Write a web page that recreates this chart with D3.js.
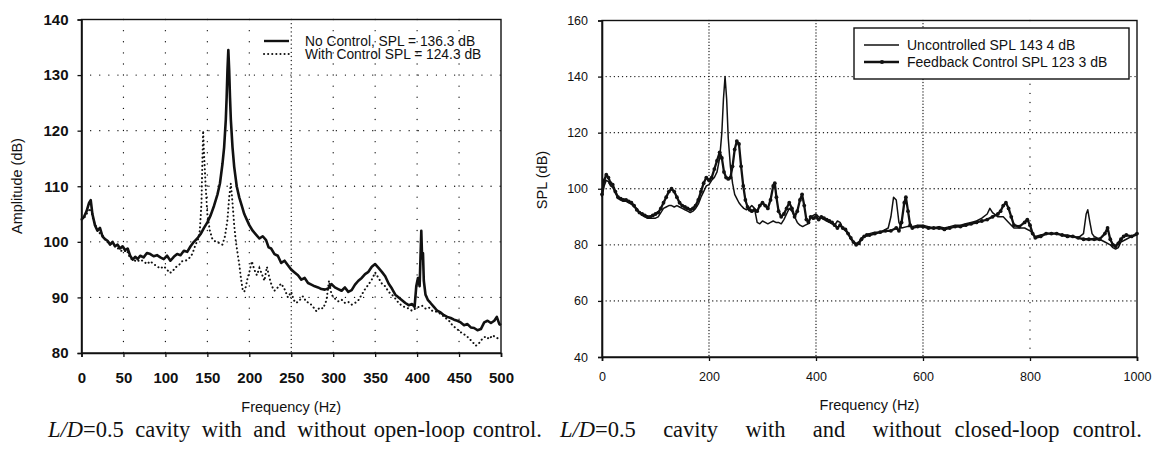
<!DOCTYPE html>
<html>
<head>
<meta charset="utf-8">
<script src="https://cdn.jsdelivr.net/npm/d3@7"></script>
<style>
  html, body { margin: 0; padding: 0; background: #fff; }
  svg { display: block; }
  text { fill: #111; }
</style>
</head>
<body>
<svg id="chart" width="1155" height="449"></svg>
<script>
// ---------------- DATA ----------------
// Left panel: open-loop control
const leftXTicks = [0, 50, 100, 150, 200, 250, 300, 350, 400, 450, 500];
const leftYTicks = [80, 90, 100, 110, 120, 130, 140];
const noCtrlFreq = [0,3,6,9,11,13,16,19,22,25,28,31,34,37,40,43,46,49,52,55,58,61,64,67,70,74,78,82,86,90,94,98,102,106,110,114,118,122,126,130,134,138,142,146,150,154,158,162,165,168,170,172,173,174,175,176,177,178,180,182,185,188,191,194,197,200,204,208,212,216,220,223,226,230,234,238,242,246,250,254,258,262,266,270,274,278,282,286,290,294,298,302,306,310,314,318,322,326,330,334,338,342,346,350,354,358,362,366,370,374,378,382,386,390,394,397,399,401,403,404,405,406,407,408,410,413,416,420,424,428,432,436,440,444,448,452,456,460,464,468,472,476,480,484,488,492,495,498,500];
const noCtrlAmp = [104,104.5,105.5,107,107.5,105,103,102,102.5,101,100.5,100.2,99.5,100,99.2,99.5,98.8,99.2,98.5,98.8,97.5,96.8,97.3,96.9,97.5,97.2,98,97.8,97.4,97.6,97.2,96.9,97.5,96.6,97.3,97.8,97.6,98.4,98.2,99.2,100,100.6,101.4,102.5,103.5,104.8,106.5,108.5,110.5,114,117,122,126,131,134.5,131,126,122,117,113.5,110,108,106.5,105,104,103,102,101.3,100.6,101,100.3,99,98.8,97.8,97.5,96.2,96.6,95.8,95,94.5,94,93.2,93.5,92.6,92.3,92,91.8,91.5,91.4,91.6,92.4,91.8,91.5,91.2,91.8,91,91.3,92.3,93,93.5,94.2,94.6,95.5,96,95.3,94.6,93.8,92.5,91.6,90.5,90,89.5,89,88.6,88.8,88.3,92,93.5,92,97,102,97,98,93,90.5,89.5,89,88.3,87.6,87.3,86.8,86.5,86.3,86,85.8,85.5,85,85.2,84.6,84.5,84.1,84.3,85.5,85.8,85.4,85.8,86.5,85.2,85];
const withCtrlFreq = [0,4,8,11,14,18,22,26,30,34,38,42,46,50,54,58,62,66,70,74,78,82,86,90,94,98,102,105,108,112,116,120,124,128,132,136,139,141,143,144,145,146,148,150,153,156,160,164,168,171,174,176,178,180,182,184,186,188,190,192,194,196,198,200,203,206,209,212,215,218,221,224,227,230,234,238,242,246,250,253,256,260,264,268,272,276,280,284,288,292,295,298,302,306,310,314,318,322,326,330,334,338,342,346,350,354,358,362,366,370,374,378,382,386,390,394,398,402,406,410,414,418,422,426,430,434,438,442,446,450,454,458,462,466,470,474,478,482,486,490,494,498,500];
const withCtrlAmp = [104,104.5,105.5,106,104,102.5,101.5,101,100,99.8,99.5,99,98.5,98.2,98.5,97,96.8,96.4,96.8,96.5,96,96.5,96,95.6,95.2,95.6,95,94.4,94.6,95.4,95.8,96.5,96.6,97,97.8,99.5,100.5,102,107,114,120,116,110,105,102,100.5,100,99.8,99.5,101,104,108,110.5,107,103,100,98,96,93.5,91.5,91,92,93.5,94.5,96.5,95,94,95.3,94.2,93,95.5,93.5,92,91.2,91.8,92.5,91.5,90,91,89.5,89,89.5,90.2,89.2,89,88.3,87.5,88.2,88,89.5,93,90.5,89.8,89.3,89.6,89,89.2,88.7,89,89.5,90.5,91.5,92.3,93.2,94.5,93.5,92.5,92,91,90.5,89.8,89,88.5,88.2,88,87.6,88,88.3,88.5,88,88.2,87.6,87.5,87.2,86.8,86.3,85.8,85,84.5,84,83.5,83.2,82.6,82,81.3,81.8,82.6,83,82.5,83.2,82.8,82.5,82.6];
const leftLegend = ["No Control, SPL = 136.3 dB", "With Control  SPL = 124.3 dB"];

// Right panel: closed-loop control
const rightXTicks = [0, 200, 400, 600, 800, 1000];
const rightYTicks = [40, 60, 80, 100, 120, 140, 160];
const uncFreq = [0,4,8,12,16,20,25,30,35,40,45,50,55,60,65,70,75,80,85,90,95,100,105,110,115,120,125,130,135,140,145,150,155,160,165,170,175,180,185,190,195,200,205,210,215,220,224,227,230,233,236,240,244,248,252,256,260,265,270,275,280,285,290,295,300,305,310,315,320,325,330,335,340,345,350,355,360,365,370,375,380,385,390,395,400,405,410,415,420,425,430,435,440,445,450,455,460,465,470,475,480,485,490,495,500,510,520,530,535,540,545,550,555,560,570,580,590,600,610,620,630,640,650,660,670,680,690,700,710,720,725,730,740,750,760,770,780,790,800,810,820,830,840,850,860,870,880,890,900,905,908,912,916,920,930,940,950,955,960,965,970,980,990,1000];
const uncSPL = [97,101,103,102.5,101,100.5,98.5,96.5,96,95.5,95.5,95,94.5,93.5,93,91.5,90.5,90,89.5,89.5,89.5,89.5,90,91.5,93,93.5,94,94,93.5,94,93.5,93,92.5,92,91.5,92,93,94.5,97,99,101,101.5,103,104,106,111,120,132,140,132,118,108,102,98,96.5,95,94,93,92.5,93,94,93,88,87.5,88.5,88,87.5,88,88.5,88,88,87.5,89,91,93,92,90,88,87,86.5,87,87.5,90,90.5,91,90,89.5,89,88.5,88,87.5,87,88.5,88,86,85,84,82,81,80.5,81,82.5,83,83.5,84,84.5,84.5,85.5,86,90,97,96,88,86,86.5,86.5,87,87,86.5,86,86.5,86,86.5,87,87,87.5,88,88.5,89.5,91,93,91.5,90,90,88,86,86,86,85,83,83.5,84,84,84,83.5,83.5,83,82.5,84,91,92.5,88,84,83,82,81,80,79,78.5,79,81,82,83,83.5];
const fbFreq = [0,4,8,12,16,20,25,30,35,40,45,50,55,60,65,70,75,80,85,90,95,100,105,110,115,120,125,130,135,140,145,150,155,160,165,170,175,180,185,190,195,200,205,210,215,220,224,228,232,236,240,244,248,252,256,260,264,268,272,276,280,285,290,295,300,305,310,315,320,323,326,330,335,340,345,350,355,360,365,370,374,378,382,386,390,395,400,405,410,415,420,425,430,435,440,445,450,455,460,465,470,475,480,485,490,495,500,510,520,530,540,550,555,560,565,568,572,576,580,590,600,610,620,630,640,650,660,670,680,690,700,710,720,730,740,745,750,755,760,765,770,780,790,795,800,805,810,820,830,840,850,860,870,880,890,900,910,920,930,940,945,950,955,960,965,970,975,980,990,1000];
const fbSPL = [98,103,105,104,102,101.5,99,97,96.5,96,96,95.5,95,94,92.5,91.5,91,90.5,90,90,90.5,91,91.5,93,95,97,99,100,99,97,95,94,93.5,93,92.5,93,94,96,99,102,104,103,104,107,110,113,111,106,104,103.5,104,108,114,117,116,108,101,96,93.5,92.5,92,92.5,92,94,95,94,93,96,101,102,97,92,90,91,93,95,93,90,92,96,98,94,89,88,90,89.5,90,89,90,89.5,89,88.5,88,87,86,87,86,85.5,84,82.5,81,80,80.5,82,83,83.5,83.5,84,84.5,85,85,86,85,88,95,97,92,87,86,86.5,86.5,86,86,86,85.5,86,86.5,86.5,87,87.5,88,88.5,89,90,91,92,94,95,93,90,87,86.5,88,89,87,84,82.5,83,84,84,84,83.5,83,83,82.5,82,82,82,82,84,86,82,80,79.5,80.5,82,83,83.5,83,84];
const rightLegend = ["Uncontrolled SPL 143 4 dB", "Feedback Control SPL 123 3 dB"];

// captions: [italic part, widely spaced part, normally spaced part]
const captionLeft = ["L/D", "=0.5 cavity with and ", "without open-loop control."];
const captionRight = ["L/D", "=0.5 cavity with and ", "without closed-loop control."];

// ---------------- DRAW ----------------
const svg = d3.select("#chart");
const ink = "#111";
const sans = "Liberation Sans, Arial, sans-serif";

function panel(cfg) {
  const x = d3.scaleLinear().domain(cfg.xDomain).range([cfg.x0, cfg.x1]);
  const y = d3.scaleLinear().domain(cfg.yDomain).range([cfg.y1, cfg.y0]);
  const g = svg.append("g");

  cfg.yTicks.slice(1, -1).forEach(t => {
    g.append("line").attr("x1", cfg.x0).attr("x2", cfg.x1)
      .attr("y1", y(t)).attr("y2", y(t))
      .attr("stroke", ink).attr("stroke-width", 1.3)
      .attr("stroke-linecap", "round")
      .attr("stroke-dasharray", cfg.hGridDash);
  });
  cfg.xTicks.slice(1, -1).forEach(t => {
    g.append("line").attr("x1", x(t)).attr("x2", x(t))
      .attr("y1", cfg.y0).attr("y2", cfg.y1)
      .attr("stroke", ink).attr("stroke-width", 1.3)
      .attr("stroke-linecap", "round")
      .attr("stroke-dasharray", cfg.denseX.includes(t) ? cfg.denseDash : cfg.vGridDash);
  });

  g.append("rect").attr("x", cfg.x0).attr("y", cfg.y0)
    .attr("width", cfg.x1 - cfg.x0).attr("height", cfg.y1 - cfg.y0)
    .attr("fill", "none").attr("stroke", ink).attr("stroke-width", 1.4);

  const xa = g.append("g").attr("transform", `translate(0,${cfg.y1})`)
    .call(d3.axisBottom(x).tickValues(cfg.xTicks).tickSize(4).tickPadding(cfg.xPad).tickFormat(d3.format("d")));
  const ya = g.append("g").attr("transform", `translate(${cfg.x0},0)`)
    .call(d3.axisLeft(y).tickValues(cfg.yTicks).tickSize(4).tickPadding(cfg.yPad).tickFormat(d3.format("d")));
  [xa, ya].forEach(a => {
    a.select(".domain").attr("stroke", ink).attr("stroke-width", 1.6);
    a.selectAll(".tick line").attr("stroke", ink).attr("stroke-width", 1.3);
    a.selectAll("text").attr("font-family", sans)
      .attr("font-size", cfg.tickFont).attr("font-weight", cfg.tickWeight).attr("fill", ink);
  });

  g.append("text").attr("x", (cfg.x0 + cfg.x1) / 2).attr("y", cfg.xTitleY)
    .attr("text-anchor", "middle").attr("font-family", sans)
    .attr("font-size", cfg.titleFont).text("Frequency (Hz)");
  g.append("text").attr("transform", `translate(${cfg.yTitleX},${cfg.yTitleCY}) rotate(-90)`)
    .attr("text-anchor", "middle").attr("font-family", sans)
    .attr("font-size", cfg.titleFont).text(cfg.yTitle);

  return { g, x, y };
}

// LEFT PANEL
const L = panel({
  xDomain: [0, 500], yDomain: [80, 140],
  x0: 81.5, x1: 501, y0: 19.5, y1: 353,
  xTicks: leftXTicks, yTicks: leftYTicks,
  hGridDash: "0.1,9", vGridDash: "0.1,11", denseDash: "0.1,4", denseX: [250],
  tickFont: 15, tickWeight: "bold", xPad: 15, yPad: 9,
  titleFont: 14.5, xTitleY: 412, yTitleX: 22, yTitleCY: 186, yTitle: "Amplitude (dB)"
});

const lineL = d3.line().x(d => L.x(d[0])).y(d => L.y(d[1]));
const ncData = noCtrlFreq.map((f, i) => [f, noCtrlAmp[i]]);
const wcData = withCtrlFreq.map((f, i) => [f, withCtrlAmp[i]]);
L.g.append("path").datum(wcData).attr("d", lineL)
  .attr("fill", "none").attr("stroke", ink).attr("stroke-width", 2)
  .attr("stroke-linecap", "round").attr("stroke-dasharray", "0.1,4");
L.g.append("path").datum(ncData).attr("d", lineL)
  .attr("fill", "none").attr("stroke", ink).attr("stroke-width", 2.6)
  .attr("stroke-linejoin", "round");

const llX = 264, llY = 41;
L.g.append("line").attr("x1", llX).attr("x2", llX + 25).attr("y1", llY).attr("y2", llY)
  .attr("stroke", ink).attr("stroke-width", 2.4);
L.g.append("line").attr("x1", llX).attr("x2", llX + 25).attr("y1", llY + 13).attr("y2", llY + 13)
  .attr("stroke", ink).attr("stroke-width", 2).attr("stroke-linecap", "round").attr("stroke-dasharray", "0.1,4");
leftLegend.forEach((t, i) => {
  L.g.append("text").attr("x", 305).attr("y", llY + 5 + i * 13)
    .attr("font-family", sans).attr("font-size", 13.8).text(t);
});

// RIGHT PANEL
const R = panel({
  xDomain: [0, 1000], yDomain: [40, 160],
  x0: 602, x1: 1137, y0: 20.5, y1: 357,
  xTicks: rightXTicks, yTicks: rightYTicks,
  hGridDash: "0.1,4", vGridDash: "0.1,9", denseDash: "0.1,3", denseX: [200, 400, 600],
  tickFont: 12.5, tickWeight: "normal", xPad: 11, yPad: 10,
  titleFont: 14.5, xTitleY: 410, yTitleX: 547, yTitleCY: 180, yTitle: "SPL (dB)"
});

const lineR = d3.line().x(d => R.x(d[0])).y(d => R.y(d[1]));
const uncData = uncFreq.map((f, i) => [f, uncSPL[i]]);
const fbData = fbFreq.map((f, i) => [f, fbSPL[i]]);
R.g.append("path").datum(uncData).attr("d", lineR)
  .attr("fill", "none").attr("stroke", ink).attr("stroke-width", 1.5).attr("stroke-linejoin", "round");
R.g.append("path").datum(fbData).attr("d", lineR)
  .attr("fill", "none").attr("stroke", ink).attr("stroke-width", 2.3).attr("stroke-linejoin", "round");
R.g.selectAll("circle.mk").data(fbData).enter().append("circle").attr("class", "mk")
  .attr("cx", d => R.x(d[0])).attr("cy", d => R.y(d[1])).attr("r", 1.9).attr("fill", ink);

const rbX = 854, rbY = 28, rbW = 275, rbH = 51;
R.g.append("rect").attr("x", rbX).attr("y", rbY).attr("width", rbW).attr("height", rbH)
  .attr("fill", "#fff").attr("stroke", ink).attr("stroke-width", 1.4);
R.g.append("line").attr("x1", rbX + 10).attr("x2", rbX + 45).attr("y1", rbY + 17).attr("y2", rbY + 17)
  .attr("stroke", ink).attr("stroke-width", 1.5);
R.g.append("line").attr("x1", rbX + 10).attr("x2", rbX + 45).attr("y1", rbY + 34).attr("y2", rbY + 34)
  .attr("stroke", ink).attr("stroke-width", 2.3);
R.g.append("circle").attr("cx", rbX + 28).attr("cy", rbY + 34).attr("r", 2.1).attr("fill", ink);
rightLegend.forEach((t, i) => {
  R.g.append("text").attr("x", rbX + 53).attr("y", rbY + 22 + i * 17)
    .attr("font-family", sans).attr("font-size", 14).text(t);
});

// captions: the first four word gaps are widened more than the last two
function caption(parts, x0, width) {
  const t = svg.append("text").attr("x", x0).attr("y", 437)
    .attr("font-family", "Liberation Serif, Times New Roman, serif").attr("font-size", 22.5)
    .style("white-space", "pre");
  t.append("tspan").attr("font-style", "italic").text(parts[0]);
  const wide = t.append("tspan").text(parts[1]);
  const narrow = t.append("tspan").text(parts[2]);
  const natural = t.node().getComputedTextLength();
  const extra = Math.max(0, width - natural);
  const w = extra / (4 + 2 * 0.35);
  wide.attr("word-spacing", w);
  narrow.attr("word-spacing", w * 0.35);
}
caption(captionLeft, 48, 494);
caption(captionRight, 560, 582);
</script>
</body>
</html>
